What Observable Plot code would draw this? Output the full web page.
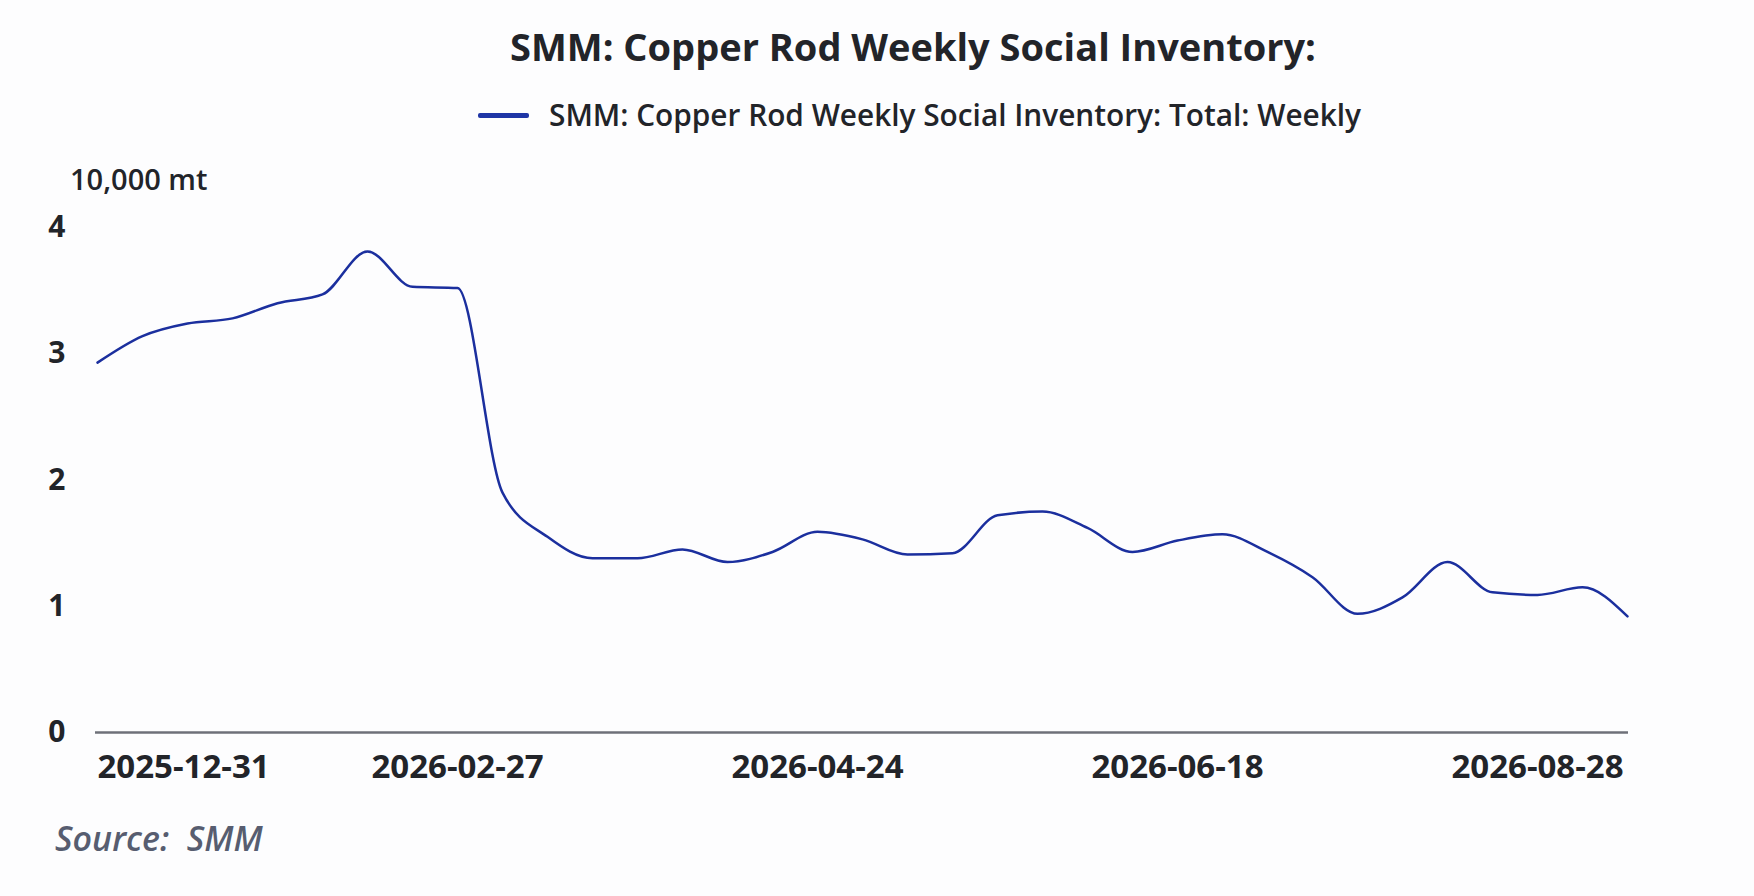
<!DOCTYPE html>
<html>
<head>
<meta charset="utf-8">
<script src="https://cdn.jsdelivr.net/npm/d3@7"></script>
<script src="https://cdn.jsdelivr.net/npm/@observablehq/plot@0.6"></script>
<style>
  html, body { margin: 0; padding: 0; background: #fdfdfe; }
  #wrap { position: relative; width: 1754px; height: 896px; overflow: hidden; font-family: "Open Sans", "Noto Sans", sans-serif; color: #222429; }
  .t { position: absolute; white-space: nowrap; line-height: 1; }
  #title { left: 913px; top: 27px; font-size: 38px; font-weight: 700; transform: translateX(-50%); }
  #legend-text { left: 549px; top: 100px; font-size: 29.8px; font-weight: 600; }
  #legend-sw { position: absolute; left: 478px; top: 113px; width: 51px; height: 5px; border-radius: 2px; background: #1f36a6; }
  #unit { left: 70px; top: 164px; font-size: 29px; font-weight: 600; }
  #source { left: 55px; top: 821px; font-size: 34px; font-weight: 600; font-style: italic; color: #575d70; }
  #chart { position: absolute; left: 0; top: 0; }
</style>
</head>
<body>
<div id="wrap">
  <div id="chart"></div>
  <div class="t" id="title">SMM: Copper Rod Weekly Social Inventory:</div>
  <div id="legend-sw"></div>
  <div class="t" id="legend-text">SMM: Copper Rod Weekly Social Inventory: Total: Weekly</div>
  <div class="t" id="unit">10,000 mt</div>
  <div class="t" id="source">Source:&nbsp;&nbsp;SMM</div>
</div>
<script>
const dates = [
  "2025-12-31","2026-01-08","2026-01-15","2026-01-22","2026-01-29","2026-02-05","2026-02-12","2026-02-20",
  "2026-02-27","2026-03-06","2026-03-13","2026-03-20","2026-03-27","2026-04-03","2026-04-10","2026-04-17",
  "2026-04-24","2026-04-30","2026-05-08","2026-05-15","2026-05-22","2026-05-29","2026-06-05","2026-06-12",
  "2026-06-18","2026-06-26","2026-07-03","2026-07-10","2026-07-17","2026-07-24","2026-07-31","2026-08-14",
  "2026-08-28","2026-09-04","2026-09-11"
];
const inventory = [
  2.93, 3.14, 3.24, 3.28, 3.40, 3.47, 3.81, 3.53,
  3.52, 1.90, 1.55, 1.38, 1.38, 1.45, 1.35, 1.43,
  1.59, 1.53, 1.41, 1.42, 1.72, 1.75, 1.62, 1.43,
  1.52, 1.57, 1.43, 1.23, 0.94, 1.07, 1.35, 1.11,
  1.09, 1.15, 0.92
];
const firstTick = ["2025-12-31"];
const otherTicks = ["2026-02-27", "2026-04-24", "2026-06-18", "2026-08-28"];
const yTicks = [0, 1, 2, 3, 4];

const data = dates.map((d, i) => ({date: d, value: inventory[i]}));

const chart = Plot.plot({
  width: 1754,
  height: 896,
  marginLeft: 95,
  marginRight: 126,
  marginTop: 227,
  marginBottom: 164,
  style: {fontFamily: "Open Sans, Noto Sans, sans-serif", fontSize: "30px", fontWeight: 700, color: "#222429", background: "transparent"},
  x: {type: "point", domain: dates, padding: 0},
  y: {domain: [0, 4]},
  marks: [
    Plot.axisY({ticks: yTicks, tickFormat: d => String(d), tickSize: 0, tickPadding: 30, label: null, fontSize: 30, fontWeight: 700}),
    Plot.axisX({ticks: firstTick, tickSize: 0, tickPadding: 22, label: null, textAnchor: "start", fontSize: 33, fontWeight: 700}),
    Plot.axisX({ticks: otherTicks, tickSize: 0, tickPadding: 22, label: null, fontSize: 33, fontWeight: 700}),
    Plot.ruleY([0], {stroke: "#6e7079", strokeWidth: 2.5}),
    Plot.line(data, {x: "date", y: "value", stroke: "#1b2f9e", strokeWidth: 2.5, curve: "monotone-x"})
  ]
});
document.getElementById("chart").appendChild(chart);
</script>
</body>
</html>
